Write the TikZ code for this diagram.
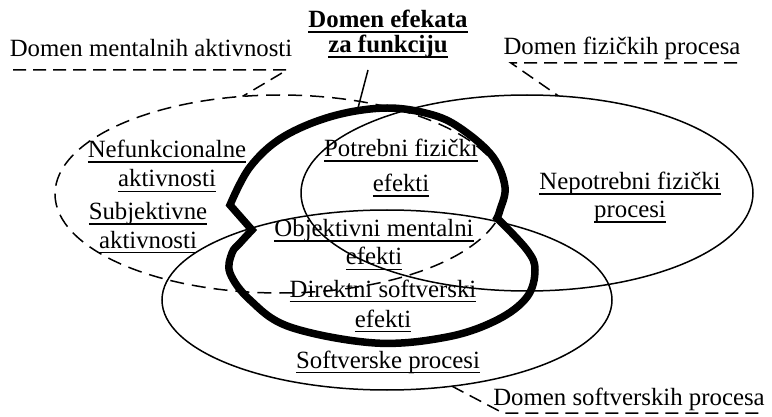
\documentclass[tikz,border=0pt]{standalone}
\usepackage{fontspec}
\setmainfont{Liberation Serif}
\usetikzlibrary{shapes.geometric}
% underline drawn 3.5pt below the baseline, 1.8pt thick
\newcommand\undl[1]{\leavevmode\setbox0\hbox{#1}\rlap{\vrule height -3.5pt depth 5.3pt width \wd0}\box0}

\begin{document}
\begin{tikzpicture}[x=1pt,y=-1pt,
  lbl/.style={font=\fontsize{24.8}{28.5}\selectfont, inner sep=0pt, align=center, anchor=base},
  title/.style={font=\bfseries\fontsize{24.8}{25}\selectfont, inner sep=0pt, align=center, anchor=base},
  procarea/.style={draw, ellipse, inner sep=0pt, outer sep=0pt, line width=1.5pt},
  dashline/.style={line width=1.5pt, dash pattern=on 13pt off 7pt},
  effect/.style={line width=7.5pt, line join=miter, miter limit=6},
  leader/.style={line width=1.5pt}]
\useasboundingbox[fill=white] (0,0) rectangle (772,417);

% the three process domains
\node[procarea, dash pattern=on 14pt off 8pt, minimum width=450pt, minimum height=198pt] (ment) at (280,194) {};
\node[procarea, minimum width=452pt, minimum height=196pt] (phys) at (527,193) {};
\node[procarea, minimum width=450pt, minimum height=180pt] (soft) at (387,300) {};

% domain of effects for the function
\draw[effect]
  plot[smooth, tension=0.6] coordinates {(230,205) (250,167) (283,137) (333,116) (387,108) (433,115) (463,130) (493,157) (505,187) (500,210) (497,218)}
  -- plot[smooth, tension=0.6] coordinates {(497,218) (527,250) (535,270) (527,297) (497,320) (447,337) (375,343) (290,327) (250,300) (230,273) (232,253) (240,243) (252,230)}
  -- cycle;

% headings (base anchor of a two-line node sits on its last line)
\node[title] (eff) at (388,53) {\undl{Domen efekata}\\\undl{za funkciju}};
\node[lbl] (mentl) at (151,57) {Domen mentalnih aktivnosti};
\node[lbl] (physl) at (622,55) {Domen fizičkih procesa};
\node[lbl] (softl) at (629,405) {Domen softverskih procesa};

% leaders
\coordinate (effA) at (368,70);
\coordinate (effB) at (358,108);
\draw[leader] (effA) -- (effB);

\coordinate (mA) at (13,70);
\coordinate (mB) at (287,70);
\draw[dashline] (mA) -- (mB) -- (ment.111);

\coordinate (pA) at (737,63);
\coordinate (pB) at (511,63);
\draw[dashline] (pA) -- (pB) -- (phys.72);

\coordinate (sA) at (503,413);
\coordinate (sB) at (762,413);
\draw[dashline] (soft.307) -- (sA) -- (sB);

% region labels
\node[lbl, font=\fontsize{24.8}{29}\selectfont] (nef) at (167,187) {\undl{Nefunkcionalne}\\\undl{aktivnosti}};
\node[lbl] (subj) at (148,248) {\undl{Subjektivne}\\\undl{aktivnosti}};
\node[lbl, font=\fontsize{24.8}{35}\selectfont] (potr) at (401,192) {\undl{Potrebni fizički}\\\undl{efekti}};
\node[lbl] (nepotr) at (630,218) {\undl{Nepotrebni fizički}\\\undl{procesi}};
\node[lbl] (obj) at (374,265) {\undl{Objektivni mentalni}\\\undl{efekti}};
\node[lbl, font=\fontsize{24.8}{30}\selectfont] (dir) at (383,327) {\undl{Direktni softverski}\\\undl{efekti}};
\node[lbl] (softp) at (388,368) {\undl{Softverske procesi}};
\end{tikzpicture}
\end{document}
